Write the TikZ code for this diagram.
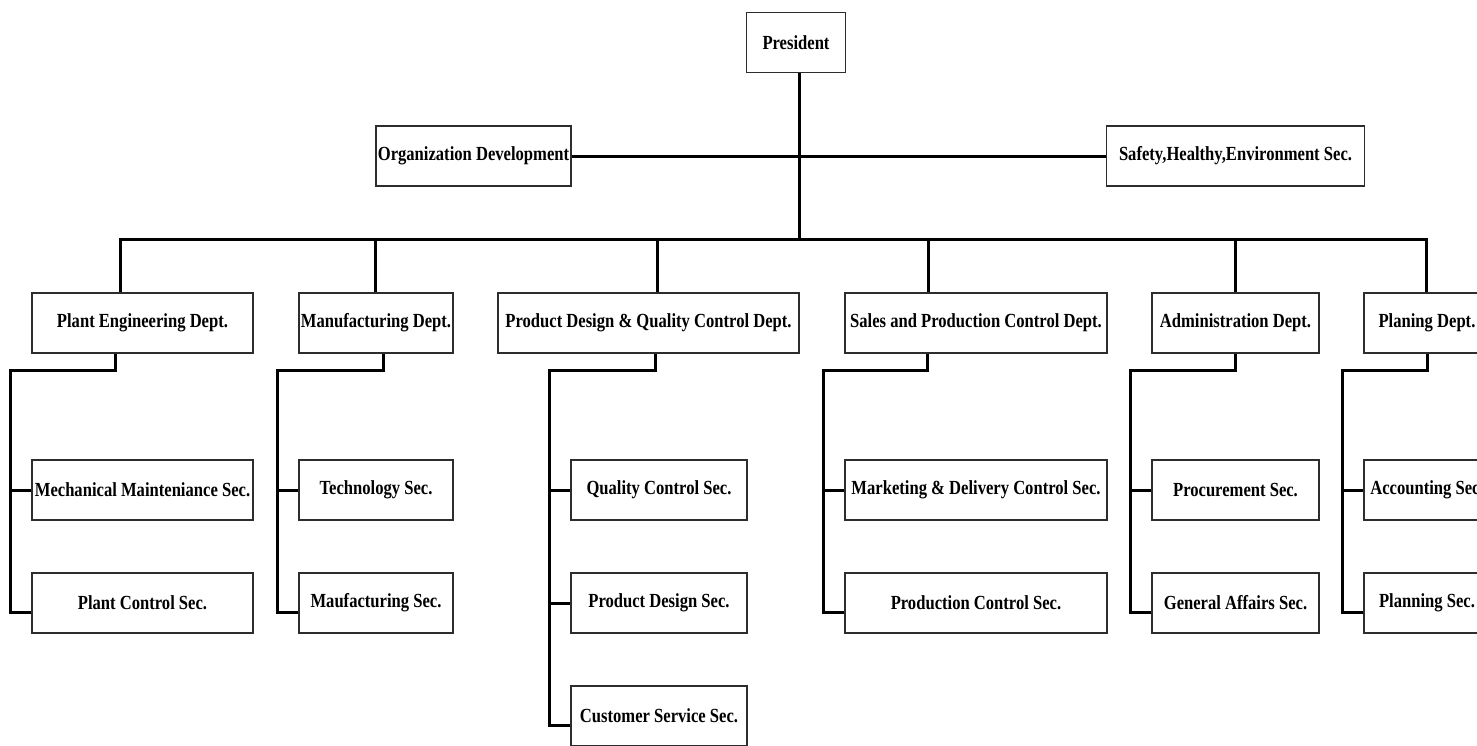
\documentclass[tikz,border=0pt]{standalone}
\usepackage{fontspec}
\setmainfont{Liberation Serif}[FakeStretch=0.83]
\usepackage{tikz}
\usetikzlibrary{positioning}
\definecolor{boxgray}{RGB}{45,45,45}

\begin{document}
\begin{tikzpicture}[x=1pt,y=-1pt,
  unit/.style={rectangle,draw=boxgray,line width=1.4pt,fill=white,align=center,
               font=\bfseries\fontsize{20}{24}\selectfont,
               minimum height=60pt,inner xsep=0pt,inner ysep=2pt},
  conn/.style={line width=3pt,black},
  node distance=51.6pt
]
\useasboundingbox (0,0) rectangle (1477,745);
\clip (0,0) rectangle (1477,745);

% Top level
\node[unit,minimum width=99pt] (pres) at (796,42.5) {President};
\node[unit,minimum width=195pt] (orgdev) at (473.5,156) {Organization Development};
\node[unit,minimum width=258pt] (safety) at (1235.5,156) {Safety,Healthy,Environment Sec.};

% Departments
\node[unit,minimum width=221pt] (plant) at (142.5,323) {Plant Engineering Dept.};
\node[unit,minimum width=154pt] (manuf) at (376,323) {Manufacturing Dept.};
\node[unit,minimum width=301pt] (pdqc) at (648.5,323) {Product Design \& Quality Control Dept.};
\node[unit,minimum width=262pt] (sales) at (976,323) {Sales and Production Control Dept.};
\node[unit,minimum width=167pt] (admin) at (1235.5,323) {Administration Dept.};
\node[unit,minimum width=126pt] (plan) at (1427,323) {Planing Dept.};

% Sections
\node[unit,minimum width=221pt] (mech) at (142.5,490) {Mechanical Mainteniance Sec.};
\node[unit,minimum width=221pt,below=of mech] (pctl) {Plant Control Sec.};
\node[unit,minimum width=154pt] (tech) at (376,490) {Technology Sec.};
\node[unit,minimum width=154pt,below=of tech] (mfsec) {Maufacturing Sec.};
\node[unit,minimum width=176pt] (qc) at (659,490) {Quality Control Sec.};
\node[unit,minimum width=176pt,below=of qc] (pds) {Product Design Sec.};
\node[unit,minimum width=176pt,below=of pds] (cs) {Customer Service Sec.};
\node[unit,minimum width=262pt] (mkt) at (976,490) {Marketing \& Delivery Control Sec.};
\node[unit,minimum width=262pt,below=of mkt] (prodc) {Production Control Sec.};
\node[unit,minimum width=167pt] (proc) at (1235.5,490) {Procurement Sec.};
\node[unit,minimum width=167pt,below=of proc] (ga) {General Affairs Sec.};
\node[unit,minimum width=126pt] (acct) at (1427,490) {Accounting Sec.};
\node[unit,minimum width=126pt,below=of acct] (plsec) {Planning Sec.};

% President to departments
\coordinate (bus) at (799,239);
\draw[conn] (pres.south -| bus) -- (bus);
\draw[conn] (orgdev.east) -- (safety.west);
\foreach \d/\s in {plant/-22.5,manuf/-1,pdqc/8.5,sales/-48,admin/0,plan/-1}
  \draw[conn] ([xshift=\s pt]\d.north) |- (bus);

% Departments to sections
\foreach \d/\s/\l in {plant/-27.5/pctl,manuf/7/mfsec,pdqc/6.5/cs,sales/-49/prodc,admin/0/ga,plan/0/plsec}
  \draw[conn] ([xshift=\s pt]\d.south) -- ++(0,17)
    -| ([xshift=-21pt,yshift=-9pt]\l.west) -- ([yshift=-9pt]\l.west);
\foreach \m in {mech,tech,qc,pds,mkt,proc,acct}
  \draw[conn] (\m.west) -- ++(-21,0);
\end{tikzpicture}
\end{document}
